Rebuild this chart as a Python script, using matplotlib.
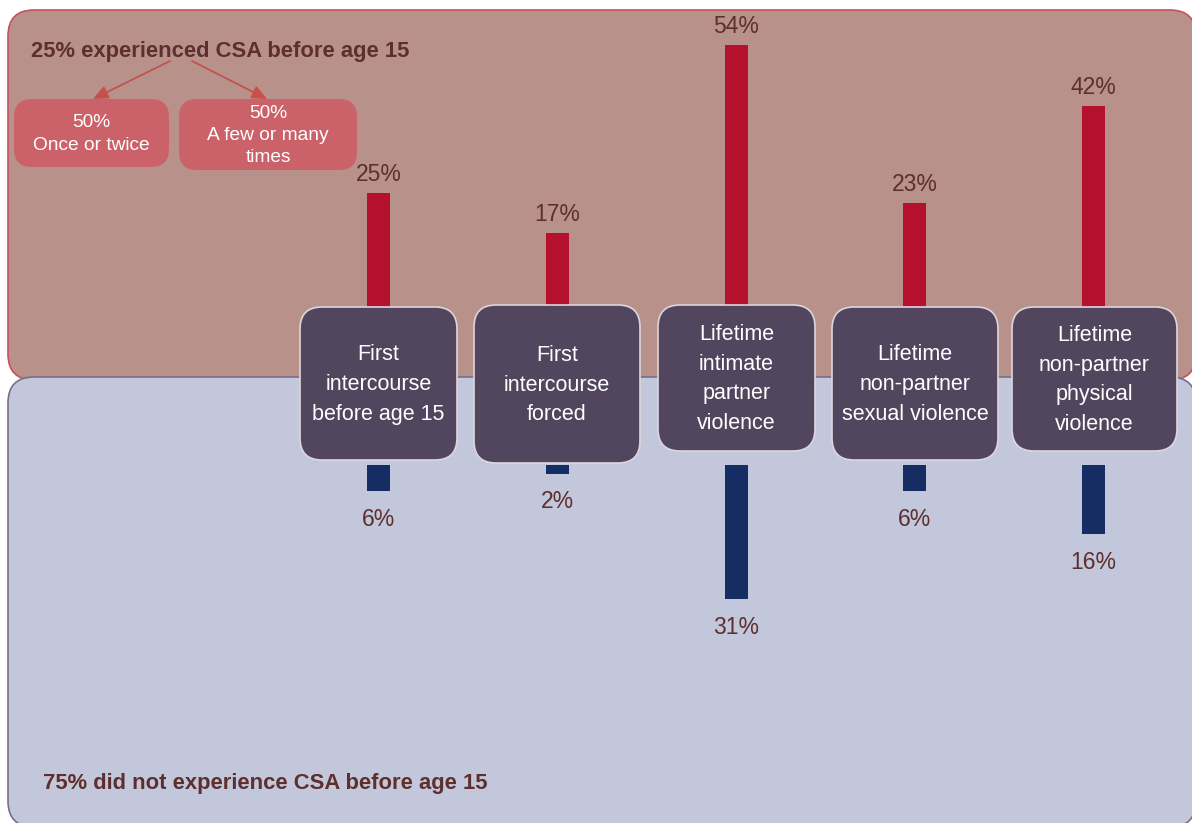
import matplotlib
matplotlib.use("Agg")
import matplotlib.pyplot as plt
from matplotlib.patches import FancyBboxPatch

plt.rcParams['font.family'] = ['Liberation Sans', 'DejaVu Sans']

# ---------------- data ----------------
categories = ["First\nintercourse\nbefore age 15",
              "First\nintercourse\nforced",
              "Lifetime\nintimate\npartner\nviolence",
              "Lifetime\nnon-partner\nsexual violence",
              "Lifetime\nnon-partner\nphysical\nviolence"]
csa_yes = [25, 17, 54, 23, 42]      # experienced CSA before 15 (red, upward)
csa_no = [6, 2, 31, 6, 16]          # did not experience CSA (blue, downward)
top_title = "25% experienced CSA before age 15"
bottom_title = "75% did not experience CSA before age 15"
split_labels = ["50%\nOnce or twice", "50%\nA few or many\ntimes"]

# ---------------- style / layout ----------------
W, H = 1192, 823
C_TOP = "#b8918a"
C_TOP_EDGE = "#c9505e"
C_BOT = "#c3c7db"
C_BOT_EDGE = "#7a6e86"
C_RED = "#b5102e"
C_BLUE = "#152d63"
C_BOX = "#52465e"
C_BOX_EDGE = "#ddd6de"
C_TXT = "#5e2f2c"
C_SMALL = "#cb6269"
C_ARROW = "#c8504a"

bar_x = [378.5, 557, 736.5, 914.5, 1093.5]
bar_w = 23
boxes = [(300, 307, 457, 460), (474, 305, 640, 463), (658, 305, 815, 451),
         (832, 307, 998, 460), (1012, 307, 1177, 451)]

red_base, red_scale = 320.0, 5.1      # px position of zero line, px per %
blue_base, blue_scale = 465.0, 4.33

fig = plt.figure(figsize=(W / 100, H / 100), dpi=100)

# background axes (pixel coordinates)
bg = fig.add_axes([0, 0, 1, 1], zorder=0)
bg.set_xlim(0, W)
bg.set_ylim(H, 0)
bg.axis("off")

bg.add_patch(FancyBboxPatch((8, 10), 1188, 370,
                            boxstyle="round,pad=0,rounding_size=26",
                            fc=C_TOP, ec=C_TOP_EDGE, lw=1.2))
bg.add_patch(FancyBboxPatch((8, 377), 1188, 450,
                            boxstyle="round,pad=0,rounding_size=26",
                            fc=C_BOT, ec=C_BOT_EDGE, lw=1.2))

# red bars (upward)
ax_r = fig.add_axes([0, (H - red_base) / H, 1, red_base / H], zorder=1)
ax_r.set_xlim(0, W)
ax_r.set_ylim(0, red_base / red_scale)
ax_r.axis("off")
rb = ax_r.bar(bar_x, csa_yes, width=bar_w, color=C_RED)
ax_r.bar_label(rb, labels=[f"{v}%" for v in csa_yes], padding=5,
               fontsize=16.5, color=C_TXT)

# blue bars (downward)
ax_b = fig.add_axes([0, 0, 1, (H - blue_base) / H], zorder=1)
ax_b.set_xlim(0, W)
ax_b.set_ylim((H - blue_base) / blue_scale, 0)
ax_b.axis("off")
bb = ax_b.bar(bar_x, csa_no, width=bar_w, color=C_BLUE)
ax_b.bar_label(bb, labels=[f"{v}%" for v in csa_no], padding=12,
               fontsize=16.5, color=C_TXT)

# overlay axes for boxes and text
ov = fig.add_axes([0, 0, 1, 1], zorder=2)
ov.set_xlim(0, W)
ov.set_ylim(H, 0)
ov.axis("off")

for (x0, y0, x1, y1), lab in zip(boxes, categories):
    ov.add_patch(FancyBboxPatch((x0, y0), x1 - x0, y1 - y0,
                                boxstyle="round,pad=0,rounding_size=22",
                                fc=C_BOX, ec=C_BOX_EDGE, lw=1.2))
    ov.text((x0 + x1) / 2, (y0 + y1) / 2 + 1, lab, ha="center", va="center",
            color="white", fontsize=15.5, linespacing=1.55)

# titles
ov.text(31, 51, top_title, ha="left", va="center", fontsize=15.8,
        fontweight="bold", color=C_TXT)
ov.text(43, 784, bottom_title, ha="left", va="center", fontsize=15.8,
        fontweight="bold", color=C_TXT)

# small boxes
small = [(14, 99, 169, 167), (179, 99, 357, 170)]
for (x0, y0, x1, y1), lab in zip(small, split_labels):
    ov.add_patch(FancyBboxPatch((x0, y0), x1 - x0, y1 - y0,
                                boxstyle="round,pad=0,rounding_size=18",
                                fc=C_SMALL, ec="none"))
    ov.text((x0 + x1) / 2, (y0 + y1) / 2 + 1, lab, ha="center", va="center",
            color="white", fontsize=13.8, linespacing=1.4)

# arrows
for (xs, ys), (xe, ye) in [((170, 61), (93, 99)), ((192, 61), (267, 99))]:
    ov.annotate("", xy=(xe, ye), xytext=(xs, ys),
                arrowprops=dict(arrowstyle="-|>,head_length=0.9,head_width=0.4",
                                color=C_ARROW, lw=1.3, shrinkA=0, shrinkB=0))

fig.savefig("out.png", dpi=100)
